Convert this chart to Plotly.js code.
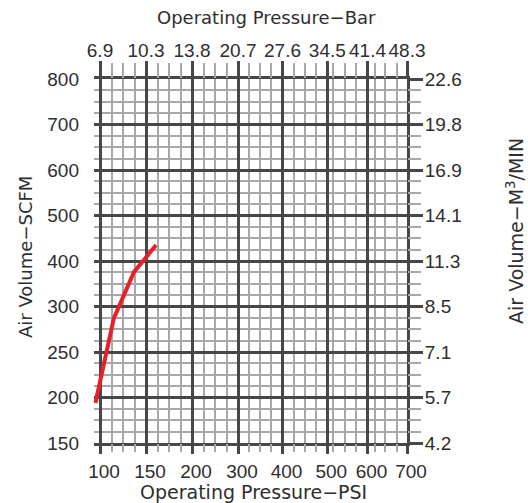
<!DOCTYPE html>
<html>
<head>
<meta charset="utf-8">
<script src="https://cdn.plot.ly/plotly-3.0.1.min.js"></script>
<style>html,body{margin:0;padding:0;background:#fff;}#chart{width:528px;height:503px;}</style>
</head>
<body>
<div id="chart"></div>
<script>
// ---- data ----
const psiTicks = [100, 150, 200, 300, 400, 500, 600, 700];
const barTicks = ['6.9', '10.3', '13.8', '20.7', '27.6', '34.5', '41.4', '48.3'];
const scfmTicks = [150, 200, 250, 300, 400, 500, 600, 700, 800];
const m3Ticks = ['4.2', '5.7', '7.1', '8.5', '11.3', '14.1', '16.9', '19.8', '22.6'];
const curvePsi = [95, 115, 137, 161];
const curveScfm = [194, 287, 376, 435];

// ---- printed chart grid geometry (non-uniform scale of the original chart paper) ----
const xMajorPos = [0, 46, 92, 138, 182.5, 227.3, 267.5, 307];
const xMinorPos = [11.5, 23, 34.5, 57.5, 69, 80.5, 103.5, 115, 126.5,
                   149.1, 160.3, 171.4, 193.7, 204.9, 216.1,
                   233.3, 245, 256, 275, 285, 296.5];
const yMajorPos = scfmTicks.map((_, i) => i);
const yMinorPos = [];
for (let i = 0; i < scfmTicks.length - 1; i++) for (let k = 1; k < 4; k++) yMinorPos.push(i + k / 4);

function toScale(v, vals, pos) {
  let i = 0;
  while (i < vals.length - 2 && v > vals[i + 1]) i++;
  const t = (v - vals[i]) / (vals[i + 1] - vals[i]);
  return pos[i] + t * (pos[i + 1] - pos[i]);
}

const FONT = 'Liberation Sans, Arial, sans-serif';
const TFONT = 'DejaVu Sans, Liberation Sans, sans-serif';
const TXT = '#2e2e2e';
const MAJ = '#474747';
const MIN = '#a8a8a8';
const XR = [-6, 307];
const YR = [0, 8];

const trace = {
  x: curvePsi.map(v => toScale(v, psiTicks, xMajorPos)),
  y: curveScfm.map(v => toScale(v, scfmTicks, yMajorPos)),
  mode: 'lines',
  line: { color: '#e8202a', width: 4 },
  xaxis: 'x', yaxis: 'y',
  hoverinfo: 'skip'
};

function ax(o) {
  return Object.assign({
    tickmode: 'array', zeroline: false, fixedrange: true, showgrid: false, showline: false,
    tickfont: { family: FONT, size: 19, color: TXT }
  }, o);
}

const layout = {
  width: 528, height: 503,
  margin: { l: 94, r: 121, t: 79, b: 60 },
  paper_bgcolor: '#fff', plot_bgcolor: '#fff',
  showlegend: false,
  // minor grid (main axes)
  xaxis: ax({ range: XR, tickvals: xMinorPos, showticklabels: false, side: 'bottom',
              ticks: 'outside', ticklen: 8, tickwidth: 2, tickcolor: MIN,
              showgrid: true, gridcolor: MIN, gridwidth: 2 }),
  yaxis: ax({ range: YR, tickvals: yMinorPos, showticklabels: false, side: 'left',
              ticks: '', showgrid: true, gridcolor: MIN, gridwidth: 2 }),
  // major grid + bottom PSI labels
  xaxis2: ax({ range: XR, tickvals: xMajorPos, ticktext: psiTicks.map(String), side: 'bottom',
               overlaying: 'x', anchor: 'y', ticks: 'outside', ticklen: 8, tickwidth: 3, tickcolor: MAJ,
               showgrid: true, gridcolor: MAJ, gridwidth: 3, showline: true, linecolor: MAJ, linewidth: 3,
               ticklabelstandoff: 1, ticklabelshift: 4 }),
  // major grid + left SCFM labels
  yaxis2: ax({ range: YR, tickvals: yMajorPos, ticktext: scfmTicks.map(String), side: 'left',
               overlaying: 'y', anchor: 'x', ticks: '', showgrid: true, gridcolor: MAJ, gridwidth: 3,
               ticklabelstandoff: 14 }),
  // top minor ticks
  xaxis3: ax({ range: XR, tickvals: xMinorPos, showticklabels: false, side: 'top', overlaying: 'x',
               anchor: 'y', ticks: 'outside', ticklen: 15, tickwidth: 2, tickcolor: MIN }),
  // top major ticks + Bar labels
  xaxis4: ax({ range: XR, tickvals: xMajorPos, ticktext: barTicks, side: 'top', overlaying: 'x',
               anchor: 'y', ticks: 'outside', ticklen: 15, tickwidth: 3, tickcolor: MAJ,
               showline: true, linecolor: MAJ, linewidth: 3, ticklabelstandoff: -4 }),
  // right minor ticks
  yaxis3: ax({ range: YR, tickvals: yMinorPos, showticklabels: false, side: 'right', overlaying: 'y',
               anchor: 'x', ticks: 'outside', ticklen: 13, tickwidth: 2, tickcolor: MIN }),
  // right major ticks + m3/min labels
  yaxis4: ax({ range: YR, tickvals: yMajorPos, ticktext: m3Ticks, side: 'right', overlaying: 'y',
               anchor: 'x', ticks: 'outside', ticklen: 13, tickwidth: 3, tickcolor: MAJ,
               showline: true, linecolor: MAJ, linewidth: 3, ticklabelstandoff: -2 }),
  annotations: [
    { text: 'Operating Pressure−Bar', xref: 'paper', yref: 'paper', x: 0.5, y: 1, xshift: 16, yshift: 62,
      showarrow: false, font: { family: TFONT, size: 18, color: TXT }, xanchor: 'center', yanchor: 'middle' },
    { text: 'Operating Pressure−PSI', xref: 'paper', yref: 'paper', x: 0.5, y: 0, xshift: 3, yshift: -49,
      showarrow: false, font: { family: TFONT, size: 19, color: TXT }, xanchor: 'center', yanchor: 'middle' },
    { text: 'Air Volume−SCFM', xref: 'paper', yref: 'paper', x: 0, y: 0.5, xshift: -69, yshift: 4, textangle: -90,
      showarrow: false, font: { family: TFONT, size: 18, color: TXT }, xanchor: 'center', yanchor: 'middle' },
    { text: 'Air Volume−M<sup>3</sup>/MIN', xref: 'paper', yref: 'paper', x: 1, y: 0.5, xshift: 108, yshift: 30,
      textangle: -90, showarrow: false, font: { family: TFONT, size: 19, color: TXT }, xanchor: 'center', yanchor: 'middle' }
  ]
};

const dummy = (xa, ya) => ({ x: [0], y: [0], xaxis: xa, yaxis: ya, mode: 'markers',
                             marker: { opacity: 0 }, hoverinfo: 'skip' });

Plotly.newPlot('chart', [
  dummy('x2', 'y'), dummy('x', 'y2'), dummy('x3', 'y'), dummy('x4', 'y'),
  dummy('x', 'y3'), dummy('x', 'y4'), trace
], layout, { staticPlot: true });
</script>
</body>
</html>
